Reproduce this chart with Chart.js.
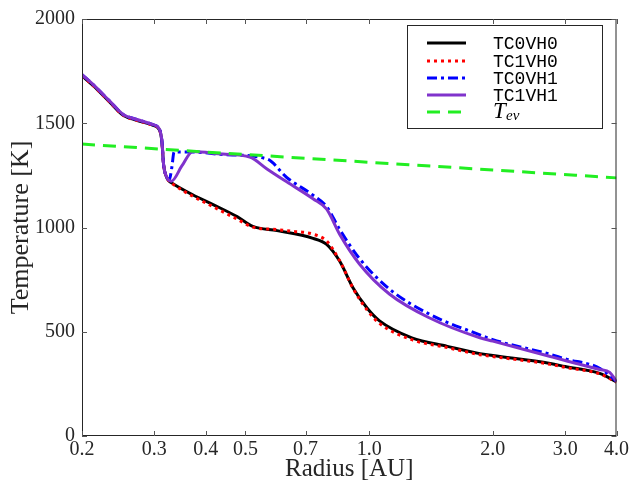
<!DOCTYPE html>
<html>
<head>
<meta charset="utf-8">
<script src="https://cdn.jsdelivr.net/npm/chart.js@4"></script>
<style>
  html, body { margin: 0; padding: 0; background: #fff; }
  #wrap { width: 631px; height: 484px; }
</style>
</head>
<body>
<div id="wrap"><canvas id="tempChart"></canvas></div>
<script>
// radius [AU] and temperature [K]
const rBlack = [0.2, 0.213, 0.234, 0.252, 0.272, 0.298, 0.309, 0.313, 0.316, 0.320, 0.325, 0.333, 0.372, 0.417, 0.477, 0.521, 0.597, 0.73, 0.788, 0.848, 0.914, 0.988, 1.06, 1.27, 1.55, 1.86, 2.0, 2.76, 3.0, 3.64, 4.0];
const tBlack = [1728, 1680, 1600, 1538, 1514, 1490, 1467, 1410, 1300, 1250, 1225, 1210, 1157, 1110, 1052, 1005, 985, 948, 919, 838, 710, 614, 552, 471, 430, 395, 386, 348, 333, 300, 260];

const rRed = [0.2, 0.213, 0.234, 0.252, 0.272, 0.298, 0.309, 0.313, 0.316, 0.320, 0.325, 0.333, 0.372, 0.417, 0.477, 0.521, 0.597, 0.65, 0.73, 0.788, 0.848, 0.914, 0.988, 1.06, 1.27, 1.55, 1.86, 2.0, 2.76, 3.0, 3.64, 4.0];
const tRed = [1728, 1680, 1600, 1538, 1514, 1490, 1467, 1410, 1300, 1250, 1225, 1208, 1150, 1100, 1040, 1002, 990, 982, 968, 935, 840, 708, 605, 540, 462, 424, 390, 381, 344, 329, 298, 258];

const rBlue = [0.2, 0.213, 0.234, 0.252, 0.272, 0.298, 0.309, 0.313, 0.316, 0.320, 0.326, 0.331, 0.335, 0.372, 0.44, 0.564, 0.63, 0.73, 0.788, 0.848, 0.948, 1.12, 1.40, 1.86, 2.0, 2.76, 3.0, 3.64, 4.0];
const tBlue = [1733, 1685, 1605, 1542, 1518, 1493, 1470, 1415, 1300, 1250, 1228, 1290, 1362, 1362, 1350, 1329, 1240, 1155, 1100, 990, 850, 705, 585, 485, 462, 392, 370, 325, 262];

const rPurple = [0.2, 0.213, 0.234, 0.252, 0.272, 0.298, 0.309, 0.313, 0.316, 0.320, 0.330, 0.35, 0.372, 0.44, 0.512, 0.564, 0.63, 0.73, 0.788, 0.848, 0.948, 1.12, 1.40, 1.86, 2.0, 2.76, 3.0, 3.64, 3.85, 4.0];
const tPurple = [1733, 1685, 1605, 1542, 1518, 1493, 1470, 1415, 1300, 1250, 1222, 1295, 1365, 1352, 1338, 1281, 1219, 1138, 1088, 967, 824, 681, 567, 471, 455, 381, 362, 319, 305, 262];

const rEvap = [0.2, 0.5, 1.0, 2.0, 4.0];
const tEvap = [1400, 1350, 1313, 1276, 1238];

const xTicks = [0.2, 0.3, 0.4, 0.5, 0.7, 1.0, 2.0, 3.0, 4.0];
const yTicks = [0, 500, 1000, 1500, 2000];

const serif = "'Liberation Serif', 'DejaVu Serif', serif";
const textColor = '#262626';

const pts = (rs, ts) => rs.map((r, i) => ({ x: r, y: ts[i] }));

const series = [
    { label: 'TC0VH0', r: rBlack, t: tBlack, color: '#000000', dash: [], order: 5 },
    { label: 'TC1VH0', r: rRed, t: tRed, color: '#ff0000', dash: [3, 4], order: 4 },
    { label: 'TC0VH1', r: rBlue, t: tBlue, color: '#0000ff', dash: [10, 4, 3, 4], order: 3 },
    { label: 'TC1VH1', r: rPurple, t: tPurple, color: '#8033cc', dash: [], order: 2 },
    { label: 'Tev', r: rEvap, t: tEvap, color: '#22ee22', dash: [13, 8], order: 1 }
];

// inward tick marks + box frame, MATLAB style
const frameTicks = {
    id: 'frameTicks',
    afterDatasetsDraw(chart) {
        const { ctx, chartArea: a, scales } = chart;
        ctx.save();
        ctx.strokeStyle = '#262626';
        ctx.lineWidth = 1;
        ctx.strokeRect(a.left + 0.5, a.top + 0.5, a.right - a.left - 1, a.bottom - a.top - 1);
        ctx.strokeStyle = '#555';
        ctx.beginPath();
        xTicks.forEach(v => {
            const x = Math.round(scales.x.getPixelForValue(v)) + 0.5;
            ctx.moveTo(x, a.bottom); ctx.lineTo(x, a.bottom - 5);
            ctx.moveTo(x, a.top); ctx.lineTo(x, a.top + 5);
        });
        yTicks.forEach(v => {
            const y = Math.round(scales.y.getPixelForValue(v)) + 0.5;
            ctx.moveTo(a.left, y); ctx.lineTo(a.left + 5, y);
            ctx.moveTo(a.right, y); ctx.lineTo(a.right - 5, y);
        });
        ctx.stroke();

        // legend box
        const bx = 407, by = 25, bw = 195, bh = 103;
        ctx.fillStyle = '#fff';
        ctx.fillRect(bx, by, bw, bh);
        ctx.strokeStyle = '#262626';
        ctx.strokeRect(bx + 0.5, by + 0.5, bw, bh);
        const rowsY = [43, 61, 78, 95, 112];
        series.forEach((s, i) => {
            const y = rowsY[i];
            ctx.beginPath();
            ctx.setLineDash(s.dash);
            ctx.strokeStyle = s.color;
            ctx.lineWidth = 3;
            ctx.moveTo(427, y); ctx.lineTo(466, y);
            ctx.stroke();
            ctx.setLineDash([]);
            ctx.fillStyle = '#000';
            ctx.textBaseline = 'middle';
            if (s.label === 'Tev') {
                ctx.font = "italic 23px " + serif;
                ctx.fillText('T', 493, y);
                ctx.font = "italic 15px " + serif;
                ctx.fillText('ev', 506, y + 4);
            } else {
                ctx.font = "18px 'Liberation Mono', 'DejaVu Sans Mono', monospace";
                ctx.fillText(s.label, 493, y + 1);
            }
        });
        ctx.restore();
    }
};

new Chart(document.getElementById('tempChart'), {
    type: 'line',
    data: {
        datasets: series.map(s => ({
            label: s.label,
            data: pts(s.r, s.t),
            borderColor: s.color,
            borderDash: s.dash,
            borderWidth: 3,
            pointRadius: 0,
            fill: false,
            cubicInterpolationMode: 'monotone',
            order: s.order
        }))
    },
    options: {
        responsive: true,
        maintainAspectRatio: false,
        animation: false,
        layout: { padding: { top: 16, right: 14, left: 0, bottom: 0 } },
        plugins: {
            legend: { display: false },
            tooltip: { enabled: false }
        },
        scales: {
            x: {
                type: 'logarithmic',
                min: 0.2,
                max: 4.0,
                afterBuildTicks: scale => { scale.ticks = xTicks.map(v => ({ value: v })); },
                afterFit: scale => { scale.height = 48; },
                ticks: {
                    autoSkip: false,
                    maxRotation: 0,
                    padding: 2,
                    color: textColor,
                    font: { family: serif, size: 20 },
                    callback: v => Number(v).toFixed(1)
                },
                grid: { display: false, drawTicks: false },
                border: { display: false },
                title: {
                    display: true,
                    text: 'Radius [AU]',
                    color: textColor,
                    font: { family: serif, size: 25 },
                    padding: { top: 0, bottom: 0 }
                }
            },
            y: {
                min: 0,
                max: 2000,
                afterBuildTicks: scale => { scale.ticks = yTicks.map(v => ({ value: v })); },
                afterFit: scale => { scale.width = 82; },
                ticks: {
                    padding: 7,
                    color: textColor,
                    font: { family: serif, size: 20 },
                    callback: v => String(v)
                },
                grid: { display: false, drawTicks: false },
                border: { display: false },
                title: {
                    display: true,
                    text: 'Temperature [K]',
                    color: textColor,
                    font: { family: serif, size: 26 },
                    padding: { top: 6, bottom: 0 }
                }
            }
        }
    },
    plugins: [frameTicks]
});
</script>
</body>
</html>
